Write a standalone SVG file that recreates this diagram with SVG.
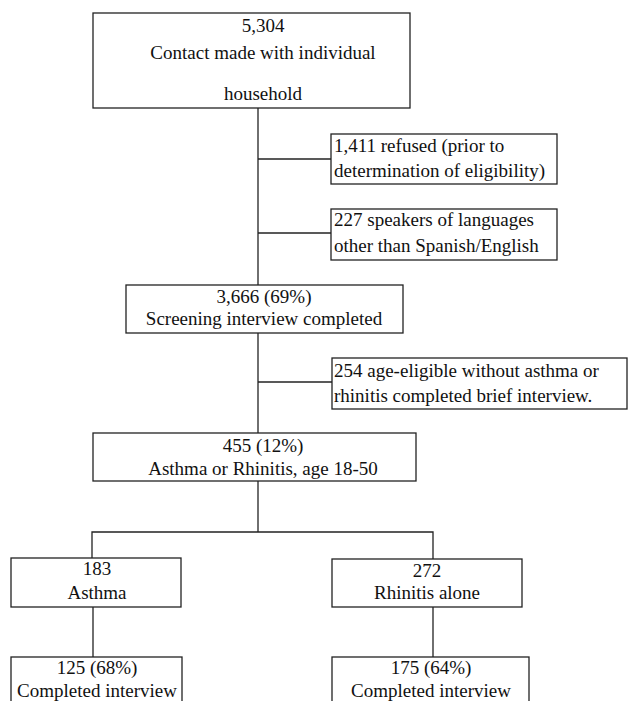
<svg xmlns="http://www.w3.org/2000/svg" width="628" height="701" viewBox="0 0 628 701">
<style>
.box{fill:#fff;stroke:#222;stroke-width:1.3}
.ln{fill:none;stroke:#222;stroke-width:1.3}
text{font-family:"Liberation Serif","Times New Roman",serif;font-size:19px;fill:#111}
.c{text-anchor:middle}
</style>
<rect width="628" height="701" fill="#fff"/>
<g id="connectors">
<path class="ln" d="M258,108 V285"/>
<path class="ln" d="M258,159 H331"/>
<path class="ln" d="M258,233 H331"/>
<path class="ln" d="M258,333 V433"/>
<path class="ln" d="M258,382 H332"/>
<path class="ln" d="M258,481 V532"/>
<path class="ln" d="M92,558 V532 H433 V559"/>
<path class="ln" d="M93,607 V657"/>
<path class="ln" d="M433,607 V657"/>
</g>
<g id="n1">
<rect class="box" x="93" y="13" width="317" height="95"/>
<text class="c" x="263" y="32">5,304</text>
<text class="c" x="263" y="59">Contact made with individual</text>
<text class="c" x="263" y="100">household</text>
</g>
<g id="n2">
<rect class="box" x="331" y="134" width="226" height="50"/>
<text x="334" y="152">1,411 refused (prior to</text>
<text x="334" y="177">determination of eligibility)</text>
</g>
<g id="n3">
<rect class="box" x="331" y="209" width="226" height="51"/>
<text x="334" y="226">227 speakers of languages</text>
<text x="334" y="252">other than Spanish/English</text>
</g>
<g id="n4">
<rect class="box" x="126" y="285" width="277" height="48"/>
<text class="c" x="264" y="303">3,666 (69%)</text>
<text class="c" x="264" y="325">Screening interview completed</text>
</g>
<g id="n5">
<rect class="box" x="332" y="358" width="295" height="51"/>
<text x="334" y="377">254 age-eligible without asthma or</text>
<text x="334" y="402">rhinitis completed brief interview.</text>
</g>
<g id="n6">
<rect class="box" x="93" y="433" width="323" height="48"/>
<text class="c" x="263" y="452">455 (12%)</text>
<text class="c" x="263" y="475">Asthma or Rhinitis, age 18-50</text>
</g>
<g id="n7">
<rect class="box" x="11" y="558" width="170" height="49"/>
<text class="c" x="97" y="575">183</text>
<text class="c" x="97" y="599">Asthma</text>
</g>
<g id="n8">
<rect class="box" x="332" y="559" width="190" height="48"/>
<text class="c" x="427" y="577">272</text>
<text class="c" x="427" y="599">Rhinitis alone</text>
</g>
<g id="n9">
<rect class="box" x="11" y="657" width="171" height="60"/>
<text class="c" x="97" y="674">125 (68%)</text>
<text class="c" x="97" y="697">Completed interview</text>
</g>
<g id="n10">
<rect class="box" x="332" y="657" width="197" height="60"/>
<text class="c" x="431" y="674">175 (64%)</text>
<text class="c" x="431" y="697">Completed interview</text>
</g>
</svg>
